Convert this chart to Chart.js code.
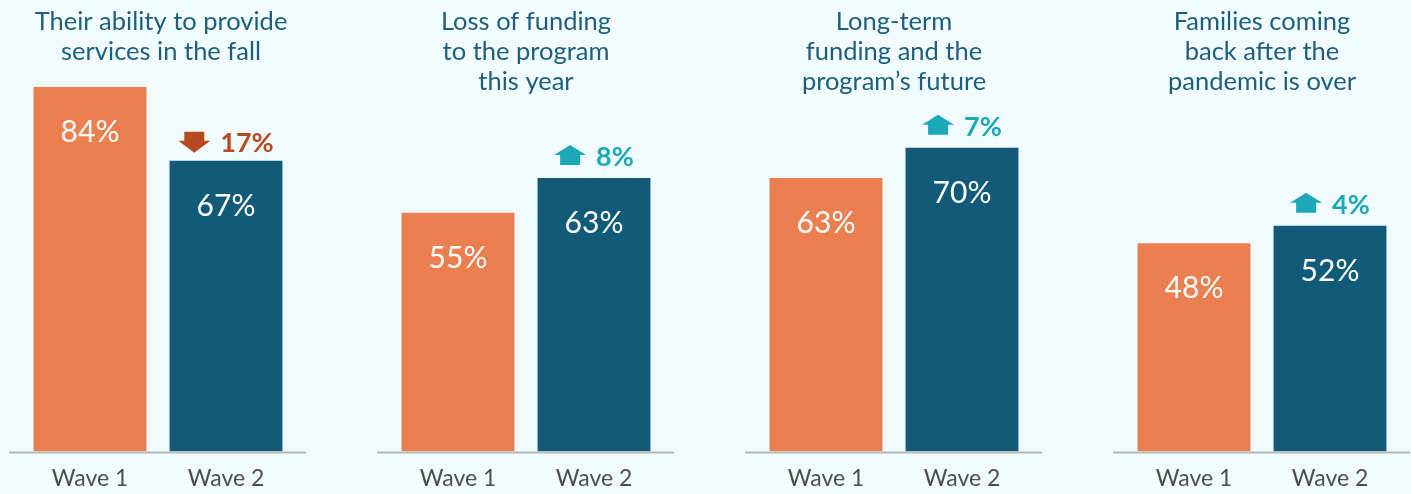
<!DOCTYPE html>
<html>
<head>
<meta charset="utf-8">
<script src="https://cdn.jsdelivr.net/npm/chart.js@4/dist/chart.umd.min.js"></script>
<style>
  html, body { margin: 0; padding: 0; background: #f1fafd; }
  body { width: 1411px; height: 494px; position: relative; overflow: hidden; }
  .panel { position: absolute; top: 0; width: 300px; height: 494px; }
</style>
</head>
<body>
<div class="panel" style="left:7.5px"><canvas id="c0"></canvas></div>
<div class="panel" style="left:375.5px"><canvas id="c1"></canvas></div>
<div class="panel" style="left:743.5px"><canvas id="c2"></canvas></div>
<div class="panel" style="left:1111.5px"><canvas id="c3"></canvas></div>
<script>
// Data
const panelTitles = [
    ['Their ability to provide', 'services in the fall'],
    ['Loss of funding', 'to the program', 'this year'],
    ['Long-term', 'funding and the', 'program\u2019s future'],
    ['Families coming', 'back after the', 'pandemic is over']
];
const waveLabels = ['Wave 1', 'Wave 2'];
const wave1Values = [84, 55, 63, 48];
const wave2Values = [67, 63, 70, 52];
const changeValues = [-17, 8, 7, 4];

const orange = '#ec7f4f';
const teal = '#115a78';
const titleColor = '#1b5f7c';
const upColor = '#1ba9b9';
const downColor = '#b84a23';
const FONT = 'Lato, "Open Sans", sans-serif';

function drawArrow(ctx, x, base, up) {
    // x = left edge of a 32px wide arrow, base = text baseline
    ctx.beginPath();
    if (up) {
        ctx.moveTo(x, base - 11);
        ctx.lineTo(x + 16, base - 21);
        ctx.lineTo(x + 32, base - 11);
        ctx.lineTo(x + 26, base - 11);
        ctx.lineTo(x + 26, base - 1);
        ctx.lineTo(x + 6, base - 1);
        ctx.lineTo(x + 6, base - 11);
    } else {
        ctx.moveTo(x + 6, base - 20);
        ctx.lineTo(x + 26, base - 20);
        ctx.lineTo(x + 26, base - 11);
        ctx.lineTo(x + 32, base - 11);
        ctx.lineTo(x + 16, base + 1);
        ctx.lineTo(x, base - 11);
        ctx.lineTo(x + 6, base - 11);
    }
    ctx.closePath();
    ctx.fill();
}

const panelDecor = {
    id: 'panelDecor',
    afterDatasetsDraw(chart, args, opts) {
        const ctx = chart.ctx;
        const area = chart.chartArea;
        const i = opts.index;
        ctx.save();

        // baseline
        ctx.strokeStyle = '#b3b8ba';
        ctx.lineWidth = 2;
        ctx.beginPath();
        ctx.moveTo(area.left - 13, area.bottom + 1);
        ctx.lineTo(area.right + 12, area.bottom + 1);
        ctx.stroke();

        // title
        ctx.fillStyle = titleColor;
        ctx.font = '25.5px ' + FONT;
        ctx.textAlign = 'center';
        ctx.textBaseline = 'alphabetic';
        panelTitles[i].forEach((line, k) => {
            ctx.fillText(line, chart.width / 2 + (i === 0 ? 3 : 0), 30 + k * 30);
        });

        // values inside bars
        const bars = chart.getDatasetMeta(0).data;
        const vals = chart.data.datasets[0].data;
        ctx.fillStyle = '#ffffff';
        ctx.font = '30px ' + FONT;
        bars.forEach((bar, k) => {
            ctx.fillText(vals[k] + '%', bar.x, bar.y + 55);
        });

        // change indicator above wave 2
        const chg = changeValues[i];
        const up = chg > 0;
        const bar2 = bars[1];
        const txt = Math.abs(chg) + '%';
        ctx.font = 'bold 27px ' + FONT;
        const tw = ctx.measureText(txt).width;
        const total = 32 + 10 + tw;
        const left = bar2.x - total / 2;
        const base = bar2.y - (up ? 12 : 9);
        ctx.fillStyle = up ? upColor : downColor;
        drawArrow(ctx, left, base, up);
        ctx.textAlign = 'left';
        ctx.fillText(txt, left + 42, base);

        ctx.restore();
    }
};

const charts = [];
for (let i = 0; i < 4; i++) {
    const ctx = document.getElementById('c' + i).getContext('2d');
    charts.push(new Chart(ctx, {
        type: 'bar',
        data: {
            labels: waveLabels,
            datasets: [{
                data: [wave1Values[i], wave2Values[i]],
                backgroundColor: [orange, teal],
                borderWidth: 0,
                barPercentage: 0.83,
                categoryPercentage: 1
            }]
        },
        options: {
            responsive: true,
            maintainAspectRatio: false,
            animation: false,
            layout: { padding: { left: 14, right: 14, top: 17.5, bottom: -11 } },
            scales: {
                y: { min: 0, max: 100, display: false },
                x: {
                    grid: { display: false, drawTicks: false },
                    border: { display: false },
                    ticks: {
                        color: '#4d4d4d',
                        padding: 13,
                        font: { family: FONT, size: 23 }
                    }
                }
            },
            plugins: {
                legend: { display: false },
                tooltip: { enabled: false },
                panelDecor: { index: i }
            }
        },
        plugins: [panelDecor]
    }));
}
</script>
</body>
</html>
